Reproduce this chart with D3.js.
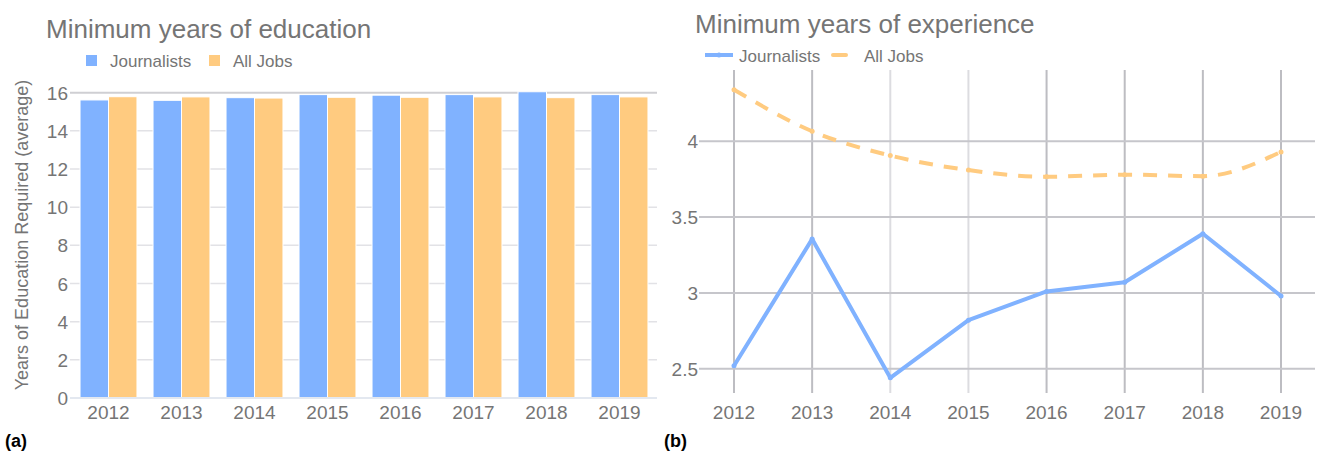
<!DOCTYPE html>
<html>
<head>
<meta charset="utf-8">
<script src="https://cdn.jsdelivr.net/npm/d3@7"></script>
<style>
  body { margin: 0; background: #fff; }
  svg text { font-family: "Liberation Sans", Arial, sans-serif; }
</style>
</head>
<body>
<div id="viz"></div>
<script>
const wh = 1319,
    ht = 453;

// data
const years = ["2012", "2013", "2014", "2015", "2016", "2017", "2018", "2019"]
const eduJournalists = [15.62, 15.6, 15.74, 15.9, 15.87, 15.9, 16.05, 15.9]
const eduAllJobs = [15.79, 15.78, 15.72, 15.76, 15.76, 15.78, 15.74, 15.78]
const expJournalists = [2.52, 3.355, 2.44, 2.82, 3.01, 3.07, 3.39, 2.98]
const expAllJobs = [4.34, 4.066, 3.906, 3.81, 3.766, 3.78, 3.77, 3.93]
const eduTicks = [0, 2, 4, 6, 8, 10, 12, 14, 16]
const expTicks = [2.5, 3, 3.5, 4]
const seriesNames = ["Journalists", "All Jobs"]

const blue = "#80b2ff",
    orange = "#ffcb80",
    grey = "#757575"

const svg = d3.select("#viz")
    .append("svg")
    .attr("width", wh)
    .attr("height", ht)

// ---------- chart (a) ----------
const a = svg.append("g")

var x0 = d3.scaleBand()
    .domain(years)
    .range([72, 656])
    .paddingInner(0.22)
    .paddingOuter(0.11)

var x1 = d3.scaleBand()
    .domain(seriesNames)
    .range([0, x0.bandwidth()])

var yA = d3.scaleLinear()
    .domain([0, 16])
    .range([398, 92.7])

a.append("text")
    .attr("x", 46)
    .attr("y", 38)
    .attr("font-size", 26)
    .attr("fill", grey)
    .text("Minimum years of education")

// grid
a.selectAll(".gridA").data(eduTicks)
    .enter().append("line")
    .attr("x1", 70).attr("x2", 657)
    .attr("y1", d => yA(d)).attr("y2", d => yA(d))
    .attr("stroke", d => d == 16 ? "#cfcfd3" : "#e2e2e6")
    .attr("stroke-width", d => d == 16 ? 2 : 1.5)

a.selectAll(".tickA").data(eduTicks)
    .enter().append("text")
    .attr("x", 68)
    .attr("y", d => yA(d) + 7)
    .attr("text-anchor", "end")
    .attr("font-size", 19)
    .attr("fill", grey)
    .text(d => d)

a.append("text")
    .attr("transform", "translate(28,235) rotate(-90)")
    .attr("text-anchor", "middle")
    .attr("font-size", 18)
    .attr("fill", grey)
    .text("Years of Education Required (average)")

var groups = a.selectAll(".yr").data(years)
    .enter().append("g")
    .attr("transform", d => "translate(" + x0(d) + ",0)")

groups.selectAll("rect")
    .data((d, i) => [
        { s: "Journalists", v: eduJournalists[i], c: blue },
        { s: "All Jobs", v: eduAllJobs[i], c: orange }
    ])
    .enter().append("rect")
    .attr("x", d => x1(d.s))
    .attr("width", x1.bandwidth())
    .attr("y", d => yA(d.v))
    .attr("height", d => yA(0) - yA(d.v))
    .attr("fill", d => d.c)
    .attr("stroke", "#fff")
    .attr("stroke-width", 1)

a.append("line")
    .attr("x1", 70).attr("x2", 657)
    .attr("y1", yA(0)).attr("y2", yA(0))
    .attr("stroke", "#e3e8f0")
    .attr("stroke-width", 2)

a.selectAll(".xlabA").data(years)
    .enter().append("text")
    .attr("x", d => x0(d) + x0.bandwidth() / 2)
    .attr("y", 419)
    .attr("text-anchor", "middle")
    .attr("font-size", 19)
    .attr("fill", grey)
    .text(d => d)

// legend (a)
const legA = [{ n: "Journalists", c: blue, x: 86 }, { n: "All Jobs", c: orange, x: 209 }]
legA.forEach(function(l) {
    a.append("rect").attr("x", l.x).attr("y", 55).attr("width", 11).attr("height", 11).attr("fill", l.c)
    a.append("text").attr("x", l.x + 24).attr("y", 67).attr("font-size", 17).attr("fill", grey).text(l.n)
})

a.append("text")
    .attr("x", 5).attr("y", 447)
    .attr("font-size", 18).attr("font-weight", "bold")
    .text("(a)")

// ---------- chart (b) ----------
const b = svg.append("g")

var xB = d3.scalePoint()
    .domain(years)
    .range([734, 1281])

var yB = d3.scaleLinear()
    .domain([2.34, 4.47])
    .range([393, 70])

b.append("text")
    .attr("x", 695)
    .attr("y", 33)
    .attr("font-size", 26)
    .attr("fill", grey)
    .text("Minimum years of experience")

b.selectAll(".vgrid").data(years)
    .enter().append("line")
    .attr("x1", d => xB(d)).attr("x2", d => xB(d))
    .attr("y1", 70).attr("y2", 393)
    .attr("stroke", (d, i) => (i == 2 || i == 3) ? "#dcdce0" : "#bdbdc2")
    .attr("stroke-width", 2)

b.selectAll(".hgrid").data(expTicks)
    .enter().append("line")
    .attr("x1", 699).attr("x2", 1315)
    .attr("y1", d => yB(d)).attr("y2", d => yB(d))
    .attr("stroke", "#c6c6cb")
    .attr("stroke-width", 2)

b.selectAll(".tickB").data(expTicks)
    .enter().append("text")
    .attr("x", 698)
    .attr("y", d => yB(d) + 7)
    .attr("text-anchor", "end")
    .attr("font-size", 19)
    .attr("fill", grey)
    .text(d => d)

b.selectAll(".xlabB").data(years)
    .enter().append("text")
    .attr("x", d => xB(d))
    .attr("y", 419)
    .attr("text-anchor", "middle")
    .attr("font-size", 19)
    .attr("fill", grey)
    .text(d => d)

var lineStraight = d3.line()
    .x((d, i) => xB(years[i]))
    .y(d => yB(d))

var lineSmooth = d3.line()
    .x((d, i) => xB(years[i]))
    .y(d => yB(d))
    .curve(d3.curveMonotoneX)

b.append("path")
    .datum(expAllJobs)
    .attr("d", lineSmooth)
    .attr("fill", "none")
    .attr("stroke", orange)
    .attr("stroke-width", 4)
    .attr("stroke-dasharray", "14,11")

b.selectAll(".dotAll").data(expAllJobs)
    .enter().append("circle")
    .attr("cx", (d, i) => xB(years[i]))
    .attr("cy", d => yB(d))
    .attr("r", 2.5)
    .attr("fill", orange)

b.append("path")
    .datum(expJournalists)
    .attr("d", lineStraight)
    .attr("fill", "none")
    .attr("stroke", blue)
    .attr("stroke-width", 4)
    .attr("stroke-linejoin", "round")

b.selectAll(".dotJ").data(expJournalists)
    .enter().append("circle")
    .attr("cx", (d, i) => xB(years[i]))
    .attr("cy", d => yB(d))
    .attr("r", 2.5)
    .attr("fill", blue)

// legend (b)
b.append("line").attr("x1", 705).attr("x2", 733).attr("y1", 55).attr("y2", 55)
    .attr("stroke", blue).attr("stroke-width", 4)
b.append("circle").attr("cx", 719).attr("cy", 55).attr("r", 2.5).attr("fill", blue)
b.append("text").attr("x", 739).attr("y", 62).attr("font-size", 17).attr("fill", grey).text("Journalists")
b.append("line").attr("x1", 833).attr("x2", 846).attr("y1", 55).attr("y2", 55)
    .attr("stroke", orange).attr("stroke-width", 4).attr("stroke-linecap", "round")
b.append("text").attr("x", 864).attr("y", 62).attr("font-size", 17).attr("fill", grey).text("All Jobs")

b.append("text")
    .attr("x", 664).attr("y", 447)
    .attr("font-size", 18).attr("font-weight", "bold")
    .text("(b)")
</script>
</body>
</html>
